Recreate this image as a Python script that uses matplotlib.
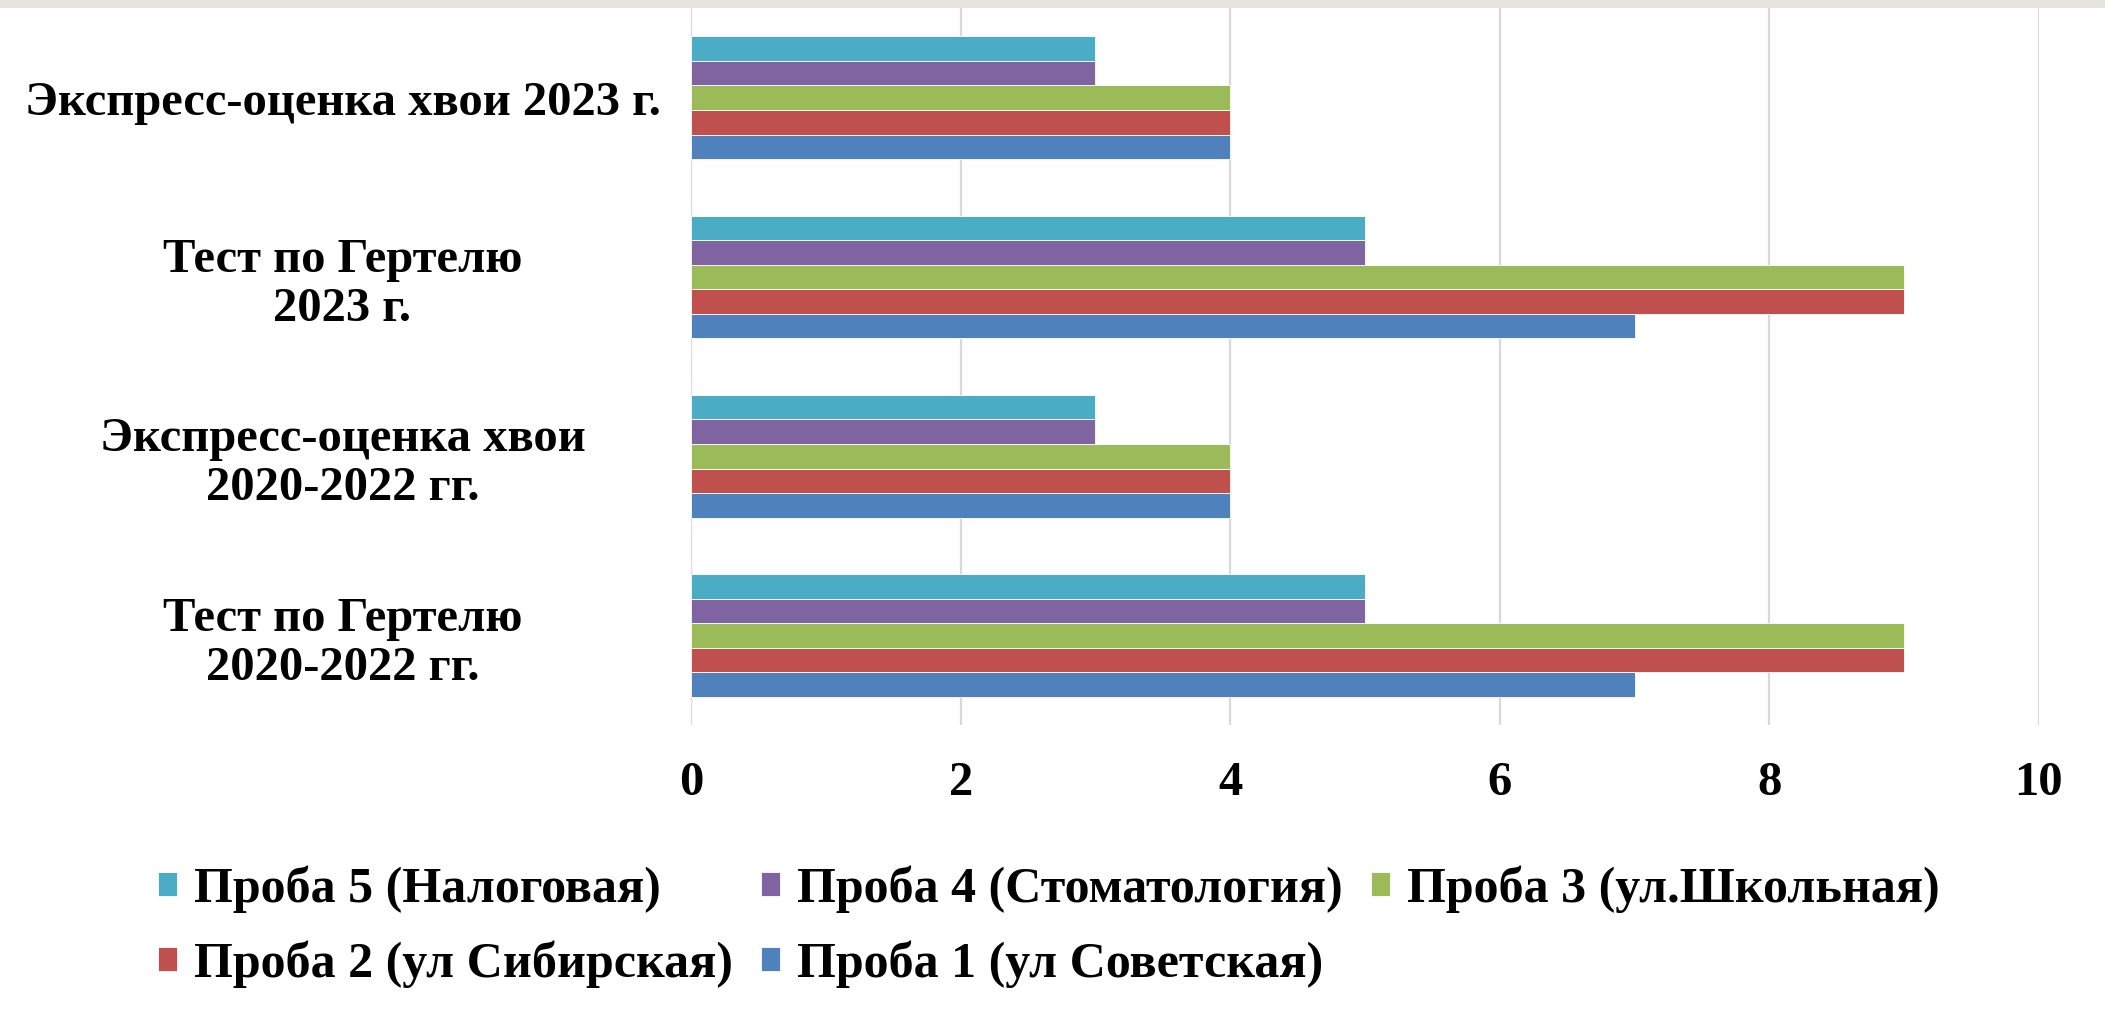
import numpy as np
import matplotlib.pyplot as plt
from matplotlib.patches import Rectangle

plt.rcParams['font.family'] = ['Liberation Serif', 'DejaVu Serif']
plt.rcParams['font.weight'] = 'bold'

# categories, bottom to top
categories = ['Тест по Гертелю\n2020-2022 гг.',
              'Экспресс-оценка хвои\n2020-2022 гг.',
              'Тест по Гертелю\n2023 г.',
              'Экспресс-оценка хвои 2023 г.']

series_names = ['Проба 1 (ул Советская)', 'Проба 2 (ул Сибирская)',
                'Проба 3 (ул.Школьная)', 'Проба 4 (Стоматология)',
                'Проба 5 (Налоговая)']
colors = ['#4F81BD', '#C0504D', '#9BBB59', '#8064A2', '#4BACC6']

proba1 = [7, 4, 7, 4]
proba2 = [9, 4, 9, 4]
proba3 = [9, 4, 9, 4]
proba4 = [5, 3, 5, 3]
proba5 = [5, 3, 5, 3]
values = [proba1, proba2, proba3, proba4, proba5]

xticks = [0, 2, 4, 6, 8, 10]

fig = plt.figure(figsize=(21.05, 10.10), dpi=100)
ax = fig.add_axes([0.3283, 0.282, 0.6403, 0.710])

# thin grey strip along the top edge
fig.patches.append(Rectangle((0, 0.992), 1, 0.008, transform=fig.transFigure,
                             facecolor='#e8e4df', edgecolor='none', zorder=0))

y = np.arange(len(categories))
h = 0.137
bars = []
for j, (vals, col) in enumerate(zip(values, colors)):
    b = ax.barh(y + (j - 2) * h, vals, height=h, color=col,
                edgecolor='white', linewidth=0.6, zorder=3, label=series_names[j])
    bars.append(b)

ax.set_xlim(0, 10)
ax.set_ylim(-0.5, 3.5)
ax.set_xticks(xticks)
ax.set_xticklabels([str(t) for t in xticks], fontsize=35, fontweight='bold')
ax.set_yticks(y)
ax.set_yticklabels(categories, fontsize=35, fontweight='bold', ha='center',
                   multialignment='center', linespacing=1.15)
ax.tick_params(axis='y', length=0, pad=251)
ax.tick_params(axis='x', length=0, pad=26)

ax.grid(axis='x', color='#d9d9d9', linewidth=1.6, zorder=0)
for s in ax.spines.values():
    s.set_visible(False)

# legend: P5, P4, P3 on the first row, P2, P1 on the second
order = [4, 1, 3, 0, 2]
leg = fig.legend([bars[i] for i in order], [series_names[i] for i in order],
                 loc='upper left', bbox_to_anchor=(0.075, 0.143),
                 ncol=3, frameon=False, prop={'size': 36, 'weight': 'bold'},
                 handlelength=0.38, handleheight=0.38, handletextpad=0.35,
                 columnspacing=0.55, labelspacing=0.55, borderpad=0,
                 borderaxespad=0)

fig.savefig('out.png', dpi=100, facecolor='white')
